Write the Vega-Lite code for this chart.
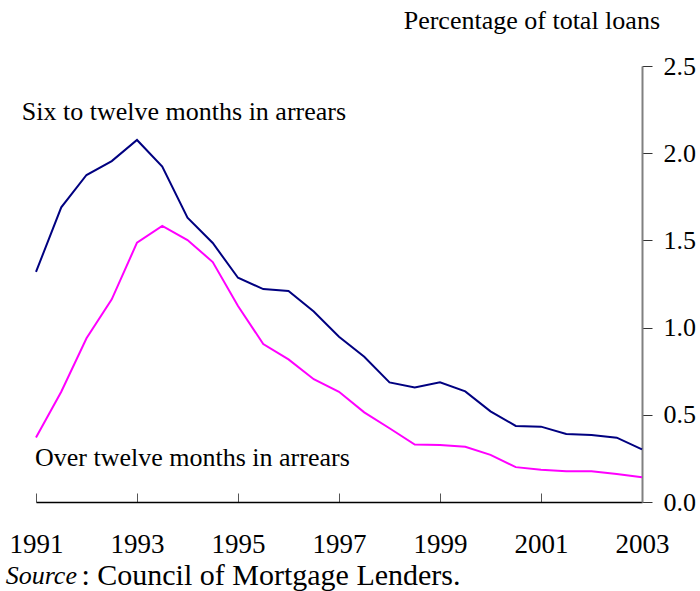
{
  "$schema": "https://vega.github.io/schema/vega-lite/v6.json",
  "autosize": "none",
  "width": 606,
  "height": 436,
  "padding": {"left": 36, "top": 66, "right": 58, "bottom": 89},
  "background": "white",
  "config": {
    "view": {"stroke": null},
    "font": "Liberation Serif",
    "text": {"font": "Liberation Serif", "fontSize": 26, "color": "black"}
  },
  "title": {
    "text": "Percentage of total loans",
    "anchor": "end",
    "frame": "group",
    "dx": 18,
    "offset": -2,
    "baseline": "alphabetic",
    "font": "Liberation Serif",
    "fontSize": 26,
    "fontWeight": "normal",
    "color": "black"
  },
  "datasets": {
    "arrears": [
      {"year": 1991.0, "value": 1.319, "series": "Six to twelve months in arrears"},
      {"year": 1991.5, "value": 1.69, "series": "Six to twelve months in arrears"},
      {"year": 1992.0, "value": 1.875, "series": "Six to twelve months in arrears"},
      {"year": 1992.5, "value": 1.955, "series": "Six to twelve months in arrears"},
      {"year": 1993.0, "value": 2.076, "series": "Six to twelve months in arrears"},
      {"year": 1993.5, "value": 1.923, "series": "Six to twelve months in arrears"},
      {"year": 1994.0, "value": 1.63, "series": "Six to twelve months in arrears"},
      {"year": 1994.5, "value": 1.485, "series": "Six to twelve months in arrears"},
      {"year": 1995.0, "value": 1.286, "series": "Six to twelve months in arrears"},
      {"year": 1995.5, "value": 1.221, "series": "Six to twelve months in arrears"},
      {"year": 1996.0, "value": 1.21, "series": "Six to twelve months in arrears"},
      {"year": 1996.5, "value": 1.092, "series": "Six to twelve months in arrears"},
      {"year": 1997.0, "value": 0.948, "series": "Six to twelve months in arrears"},
      {"year": 1997.5, "value": 0.833, "series": "Six to twelve months in arrears"},
      {"year": 1998.0, "value": 0.686, "series": "Six to twelve months in arrears"},
      {"year": 1998.5, "value": 0.657, "series": "Six to twelve months in arrears"},
      {"year": 1999.0, "value": 0.686, "series": "Six to twelve months in arrears"},
      {"year": 1999.5, "value": 0.634, "series": "Six to twelve months in arrears"},
      {"year": 2000.0, "value": 0.52, "series": "Six to twelve months in arrears"},
      {"year": 2000.5, "value": 0.436, "series": "Six to twelve months in arrears"},
      {"year": 2001.0, "value": 0.432, "series": "Six to twelve months in arrears"},
      {"year": 2001.5, "value": 0.39, "series": "Six to twelve months in arrears"},
      {"year": 2002.0, "value": 0.384, "series": "Six to twelve months in arrears"},
      {"year": 2002.5, "value": 0.369, "series": "Six to twelve months in arrears"},
      {"year": 2003.0, "value": 0.302, "series": "Six to twelve months in arrears"},
      {"year": 1991.0, "value": 0.37, "series": "Over twelve months in arrears"},
      {"year": 1991.5, "value": 0.632, "series": "Over twelve months in arrears"},
      {"year": 1992.0, "value": 0.939, "series": "Over twelve months in arrears"},
      {"year": 1992.5, "value": 1.162, "series": "Over twelve months in arrears"},
      {"year": 1993.0, "value": 1.487, "series": "Over twelve months in arrears"},
      {"year": 1993.5, "value": 1.583, "series": "Over twelve months in arrears"},
      {"year": 1994.0, "value": 1.502, "series": "Over twelve months in arrears"},
      {"year": 1994.5, "value": 1.376, "series": "Over twelve months in arrears"},
      {"year": 1995.0, "value": 1.124, "series": "Over twelve months in arrears"},
      {"year": 1995.5, "value": 0.906, "series": "Over twelve months in arrears"},
      {"year": 1996.0, "value": 0.818, "series": "Over twelve months in arrears"},
      {"year": 1996.5, "value": 0.704, "series": "Over twelve months in arrears"},
      {"year": 1997.0, "value": 0.632, "series": "Over twelve months in arrears"},
      {"year": 1997.5, "value": 0.514, "series": "Over twelve months in arrears"},
      {"year": 1998.0, "value": 0.423, "series": "Over twelve months in arrears"},
      {"year": 1998.5, "value": 0.329, "series": "Over twelve months in arrears"},
      {"year": 1999.0, "value": 0.327, "series": "Over twelve months in arrears"},
      {"year": 1999.5, "value": 0.317, "series": "Over twelve months in arrears"},
      {"year": 2000.0, "value": 0.27, "series": "Over twelve months in arrears"},
      {"year": 2000.5, "value": 0.2, "series": "Over twelve months in arrears"},
      {"year": 2001.0, "value": 0.185, "series": "Over twelve months in arrears"},
      {"year": 2001.5, "value": 0.176, "series": "Over twelve months in arrears"},
      {"year": 2002.0, "value": 0.176, "series": "Over twelve months in arrears"},
      {"year": 2002.5, "value": 0.16, "series": "Over twelve months in arrears"},
      {"year": 2003.0, "value": 0.142, "series": "Over twelve months in arrears"}
    ],
    "notes": [
      {"year": 1990.72, "value": 2.236, "label": "Six to twelve months in arrears", "kind": "series"},
      {"year": 1990.98, "value": 0.252, "label": "Over twelve months in arrears", "kind": "series"},
      {"year": 1990.4, "value": -0.425, "label": "Source", "kind": "sourceHead"},
      {"year": 1991.9, "value": -0.425, "label": ": Council of Mortgage Lenders.", "kind": "sourceBody"}
    ]
  },
  "layer": [
    {
      "data": {"name": "arrears"},
      "mark": {"type": "line", "strokeWidth": 2, "clip": false},
      "encoding": {
        "x": {
          "field": "year", "type": "quantitative",
          "scale": {"domain": [1991, 2003], "nice": false, "zero": false},
          "axis": {
            "orient": "bottom",
            "title": null,
            "values": [1991, 1993, 1995, 1997, 1999, 2001, 2003],
            "format": "d",
            "grid": false,
            "domainColor": "black",
            "domainWidth": 1.5,
            "tickColor": "#555555",
            "tickWidth": 1,
            "tickSize": -9,
            "labelPadding": 38,
            "labelFont": "Liberation Serif",
            "labelFontSize": 27,
            "labelColor": "black",
            "labelFlush": false,
            "labelOverlap": false
          }
        },
        "y": {
          "field": "value", "type": "quantitative",
          "scale": {"domain": [0, 2.5], "nice": false},
          "axis": {
            "orient": "right",
            "title": null,
            "values": [0, 0.5, 1, 1.5, 2, 2.5],
            "format": ".1f",
            "grid": false,
            "domainColor": "#808080",
            "domainWidth": 2,
            "tickColor": "#333333",
            "tickWidth": 1,
            "tickSize": 10,
            "labelPadding": 11,
            "labelFont": "Liberation Serif",
            "labelFontSize": 26,
            "labelColor": "black",
            "labelFlush": false,
            "labelOverlap": false
          }
        },
        "color": {
          "field": "series", "type": "nominal",
          "scale": {
            "domain": ["Six to twelve months in arrears", "Over twelve months in arrears"],
            "range": ["#000080", "#FF00FF"]
          },
          "legend": null
        }
      }
    },
    {
      "data": {"name": "notes"},
      "transform": [{"filter": "datum.kind === 'series'"}],
      "mark": {"type": "text", "align": "left", "baseline": "middle", "fontSize": 26},
      "encoding": {
        "x": {"field": "year", "type": "quantitative"},
        "y": {"field": "value", "type": "quantitative"},
        "text": {"field": "label"}
      }
    },
    {
      "data": {"name": "notes"},
      "transform": [{"filter": "datum.kind === 'sourceHead'"}],
      "mark": {"type": "text", "align": "left", "baseline": "middle", "fontSize": 26, "fontStyle": "italic"},
      "encoding": {
        "x": {"field": "year", "type": "quantitative"},
        "y": {"field": "value", "type": "quantitative"},
        "text": {"field": "label"}
      }
    },
    {
      "data": {"name": "notes"},
      "transform": [{"filter": "datum.kind === 'sourceBody'"}],
      "mark": {"type": "text", "align": "left", "baseline": "middle", "fontSize": 30},
      "encoding": {
        "x": {"field": "year", "type": "quantitative"},
        "y": {"field": "value", "type": "quantitative"},
        "text": {"field": "label"}
      }
    }
  ]
}
